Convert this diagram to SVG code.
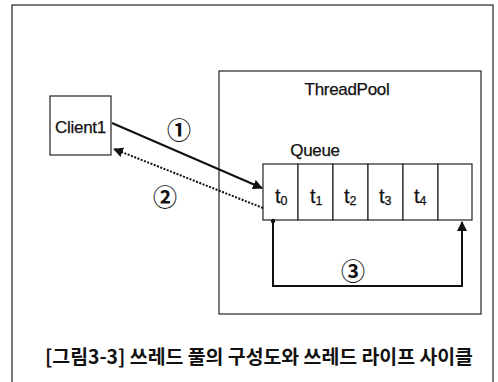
<svg xmlns="http://www.w3.org/2000/svg" width="498" height="382" viewBox="0 0 498 382">
<style>
.box{fill:#fff;stroke:#222;stroke-width:1.2}
.lbl{font-family:"Liberation Sans",Arial,sans-serif;font-size:17px;fill:#111;letter-spacing:-0.3px;stroke:#111;stroke-width:0.25}
.t{font-family:"Liberation Sans",Arial,sans-serif;font-size:20px;fill:#111;stroke:#111;stroke-width:0.25}
.sub{font-size:12.5px}
.num{font-family:"Noto Sans CJK KR","DejaVu Sans",sans-serif;font-size:24px;font-weight:bold;fill:#111}
.cap{font-family:"Noto Sans CJK KR",sans-serif;font-size:19.4px;font-weight:bold;fill:#111}
.solid{fill:none;stroke:#111;stroke-width:2}
.dot{fill:none;stroke:#111;stroke-width:2;stroke-dasharray:2 1.5}
</style>
<defs>
<marker id="ah" viewBox="0 0 10 10" refX="9" refY="5" markerWidth="5" markerHeight="5" orient="auto" markerUnits="strokeWidth">
<path d="M0,0 L10,5 L0,10 z" fill="#111"/>
</marker>
</defs>
<rect width="498" height="382" fill="#fff"/>
<rect id="frame" x="12" y="5" width="481" height="400" fill="none" stroke="#222" stroke-width="1.2"/>
<g id="threadpool">
<rect class="box" x="219" y="71" width="262" height="243"/>
<text class="lbl" x="347" y="95" text-anchor="middle">ThreadPool</text>
</g>
<g id="client1">
<rect class="box" x="50" y="96" width="61" height="59"/>
<text class="lbl" x="80.5" y="133" text-anchor="middle">Client1</text>
</g>
<g id="queue">
<text class="lbl" x="315" y="156" text-anchor="middle">Queue</text>
<rect class="box" x="263" y="164" width="35" height="56"/>
<rect class="box" x="298" y="164" width="35" height="56"/>
<rect class="box" x="333" y="164" width="35" height="56"/>
<rect class="box" x="368" y="164" width="35" height="56"/>
<rect class="box" x="403" y="164" width="35" height="56"/>
<rect class="box" x="438" y="164" width="34" height="56"/>
<text class="t" x="275" y="203">t<tspan class="sub" dy="2">0</tspan></text>
<text class="t" x="310" y="203">t<tspan class="sub" dy="2">1</tspan></text>
<text class="t" x="344" y="203">t<tspan class="sub" dy="2">2</tspan></text>
<text class="t" x="379" y="203">t<tspan class="sub" dy="2">3</tspan></text>
<text class="t" x="414" y="203">t<tspan class="sub" dy="2">4</tspan></text>
</g>
<g id="connectors">
<line class="solid" x1="112" y1="123" x2="262" y2="188" marker-end="url(#ah)"/>
<line class="dot" x1="263" y1="208" x2="114" y2="149" marker-end="url(#ah)"/>
<polyline class="solid" points="273,221 273,286 462,286 462,222" marker-end="url(#ah)"/>
<circle cx="273" cy="221" r="2.2" fill="#111"/>
</g>
<g id="labels">
<text class="num" x="179" y="139" text-anchor="middle">①</text>
<text class="num" x="165" y="206" text-anchor="middle">②</text>
<text class="num" x="353" y="280" text-anchor="middle">③</text>
</g>
<text class="cap" x="45" y="364">[그림3-3] 쓰레드 풀의 구성도와 쓰레드 라이프 사이클</text>
</svg>
